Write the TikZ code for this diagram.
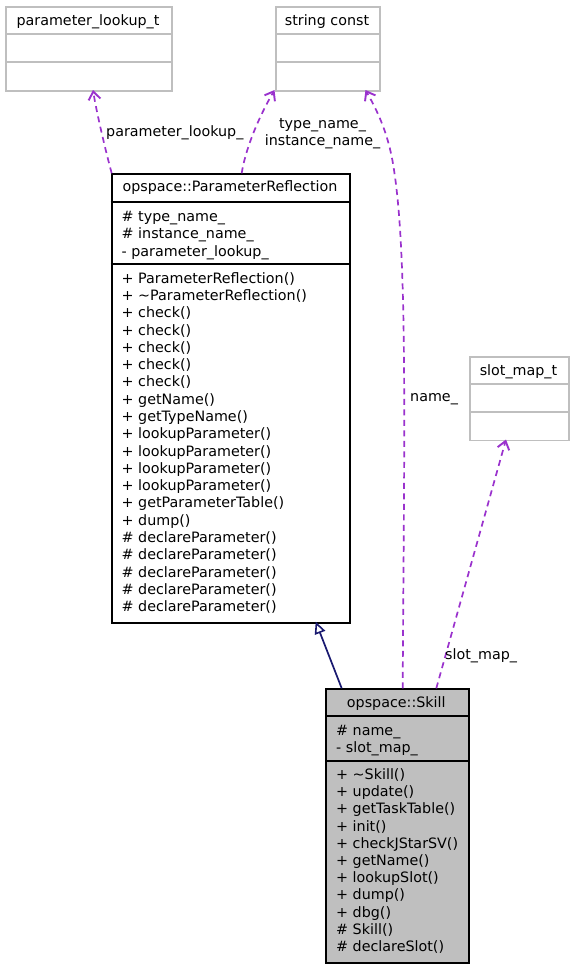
\documentclass[tikz,border=0pt]{standalone}
\usepackage{fontspec}
\setmainfont{DejaVu Sans}
\usetikzlibrary{arrows.meta}
\definecolor{usecol}{HTML}{9A32CD}
\definecolor{inhcol}{HTML}{191970}
\definecolor{greybox}{HTML}{BFBFBF}
\begin{document}
\begin{tikzpicture}[x=1pt,y=-1pt,
  txt/.style={font=\fontsize{14.3}{17.3}\selectfont, inner sep=0pt, anchor=base west},
  ttl/.style={font=\fontsize{14.3}{17.3}\selectfont, inner sep=0pt, anchor=base},
  lbl/.style={font=\fontsize{14.3}{17.3}\selectfont, inner sep=0pt},
  extbox/.style={draw=greybox, line width=1.8pt, inner sep=0pt, anchor=north west},
  classbox/.style={draw=black, line width=1.8pt, inner sep=0pt, anchor=north west},
  useedge/.style={draw=usecol, line width=1.7pt, dash pattern=on 6pt off 4.5pt, -{Straight Barb[length=8pt,width=12pt,line width=1.9pt]}},
  inhedge/.style={draw=inhcol, line width=1.7pt, -{Triangle[open,length=12pt,width=11pt,line width=1.6pt]}}
]
\useasboundingbox (0,0) rectangle (573,967);

% parameter_lookup_t
\node[extbox, minimum width=166pt, minimum height=84pt] (plt) at (5,6) {};
\draw[greybox, line width=1.8pt] (5,34) -- (171,34) (5,62) -- (171,62);
\node[ttl] (plttitle) at (88,25) {parameter\_lookup\_t};

% string const
\node[extbox, minimum width=104pt, minimum height=84pt] (sc) at (275,6) {};
\draw[greybox, line width=1.8pt] (275,34) -- (379,34) (275,62) -- (379,62);
\node[ttl] (sctitle) at (327,25) {string const};

% slot_map_t
\node[extbox, minimum width=98.5pt, minimum height=83.5pt] (smt) at (469.2,356) {};
\draw[greybox, line width=1.8pt] (469.2,384) -- (567.7,384) (469.2,411.7) -- (567.7,411.7);
\node[ttl] (smttitle) at (518.5,375) {slot\_map\_t};

% ParameterReflection
\node[classbox, minimum width=238.6pt, minimum height=448.4pt] (pr) at (110.7,173.3) {};
\draw[black, line width=1.8pt] (110.7,201.7) -- (349.3,201.7) (110.7,264) -- (349.3,264);
\node[ttl] (prtitle) at (230,191.7) {opspace::ParameterReflection};
\foreach \t [count=\i from 0] in {\# type\_name\_, \# instance\_name\_, - parameter\_lookup\_}
  \node[txt] at (121.5,221.7+17.2*\i) {\t};
\foreach \t [count=\i from 0] in {+ ParameterReflection(), + \textasciitilde ParameterReflection(), + check(), + check(), + check(), + check(), + check(), + getName(), + getTypeName(), + lookupParameter(), + lookupParameter(), + lookupParameter(), + lookupParameter(), + getParameterTable(), + dump(), \# declareParameter(), \# declareParameter(), \# declareParameter(), \# declareParameter(), \# declareParameter()}
  \node[txt] at (121.5,283.3+17.28*\i) {\t};

% Skill
\node[classbox, fill=greybox, minimum width=142.7pt, minimum height=273.7pt] (sk) at (325,688.3) {};
\draw[black, line width=1.8pt] (325,716) -- (467.7,716) (325,761) -- (467.7,761);
\node[ttl] (sktitle) at (396.3,707.3) {opspace::Skill};
\foreach \t [count=\i from 0] in {\# name\_, - slot\_map\_}
  \node[txt] at (336,735+17*\i) {\t};
\foreach \t [count=\i from 0] in {+ \textasciitilde Skill(), + update(), + getTaskTable(), + init(), + checkJStarSV(), + getName(), + lookupSlot(), + dump(), + dbg(), \# Skill(), \# declareSlot()}
  \node[txt] at (336,779.3+17.24*\i) {\t};

% anchor coordinates on boxes
\coordinate (pr1) at (111.7,173.3);
\coordinate (pr2) at (241.7,173.3);
\coordinate (plt1) at (93,90);
\coordinate (sc1) at (274.5,90);
\coordinate (sc2) at (365.5,90);
\coordinate (sk1) at (402.7,688.3);
\coordinate (sk2) at (436.3,688.3);
\coordinate (sk3) at (341.7,688.3);
\coordinate (smt1) at (506,439.5);
\coordinate (pr3) at (315.7,621.7);

% edges
\draw[useedge] (pr1) .. controls (106,152) and (97,115) .. (plt1);
\draw[useedge] (pr2) .. controls (245,152) and (256,122) .. (sc1);
\draw[useedge] (sk1) .. controls (404,450) and (408,260) .. (394,170) .. controls (389,135) and (378,112) .. (sc2);
\draw[useedge] (sk2) -- (smt1);
\draw[inhedge] (sk3) -- (pr3);

% labels
\node[lbl, anchor=base west] (l1) at (106,136.7) {parameter\_lookup\_};
\node[lbl, anchor=base] (l2a) at (322.5,128.3) {type\_name\_};
\node[lbl, anchor=base] (l2b) at (322.5,145) {instance\_name\_};
\node[lbl, anchor=base west] (l3) at (410,401.7) {name\_};
\node[lbl, anchor=base west] (l4) at (445,659) {slot\_map\_};
\end{tikzpicture}
\end{document}
